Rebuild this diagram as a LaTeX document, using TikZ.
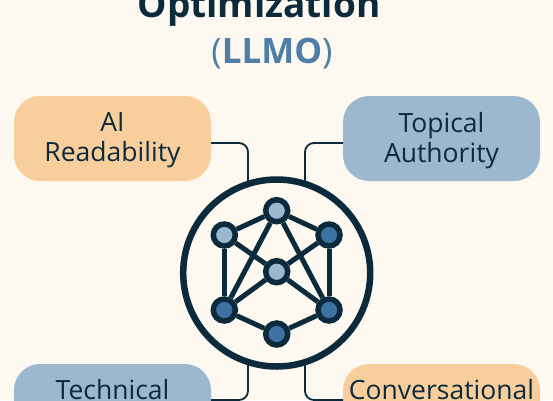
\documentclass[tikz,border=0pt]{standalone}
\usepackage{xcolor}
\usepackage{fontspec}
\setmainfont{Open Sans}
\usetikzlibrary{positioning}
\definecolor{pagecream}{HTML}{FEF9F0}
\definecolor{inkdark}{HTML}{0B2B3C}
\definecolor{tagorange}{HTML}{F8CF9C}
\definecolor{tagblue}{HTML}{9CB8CF}
\definecolor{dotblue}{HTML}{3E72A3}
\definecolor{acroblue}{HTML}{4F7FA8}

\begin{document}
\begin{tikzpicture}[
  x=1pt, y=-1pt,
  tagbox/.style={rounded corners=26pt, minimum width=197pt, minimum height=85pt, inner sep=0pt},
  tagtext/.style={align=center, inner sep=0pt, text=inkdark, yshift=-2pt, font=\fontsize{26.5}{30}\selectfont},
  link/.style={draw=inkdark, line width=1.8pt, rounded corners=9pt},
  hubring/.style={circle, draw=inkdark, fill=pagecream, line width=6.5pt, minimum size=187pt, inner sep=0pt},
  netdot/.style={circle, draw=inkdark, line width=5.5pt, minimum size=22pt, inner sep=0pt},
  netline/.style={draw=inkdark, line width=5pt}
]
\clip (0,0) rectangle (553,400);
\fill[pagecream] (0,0) rectangle (553,400);
% title
\node[anchor=base, text=inkdark, font=\fontsize{37}{44}\bfseries\selectfont] (title) at (259,17) {Optimization};
\node[anchor=base, text=acroblue, font=\fontsize{35}{36}\bfseries\selectfont] (acro) at (272,63) {{\mdseries(}LLMO{\mdseries)}};
% tags
\node[tagbox, fill=tagorange] (ai) at (112.5,138.5) {};
\node[tagbox, fill=tagblue] (topical) at (441.5,138.5) {};
\node[tagbox, fill=tagblue] (tech) at (112.5,406.5) {};
\node[tagbox, fill=tagorange] (conv) at (441.5,406.5) {};
\node[tagtext] (aitext) at (ai) {AI\\Readability};
\node[tagtext] (topicaltext) at (topical) {Topical\\Authority};
\node[tagtext] (techtext) at (tech) {Technical\\\strut};
\node[tagtext] (convtext) at (conv) {Conversational\\\strut};
% connectors
\coordinate (aiport) at (211,143);
\coordinate (topicalport) at (343,143);
\coordinate (techport) at (211,400);
\coordinate (convport) at (343,400);
\coordinate (hubnw) at (248,184);
\coordinate (hubne) at (305,184);
\coordinate (hubsw) at (248,362);
\coordinate (hubse) at (305,362);
\draw[link] (aiport) -| (hubnw);
\draw[link] (topicalport) -| (hubne);
\draw[link] (techport) -| (hubsw);
\draw[link] (convport) -| (hubse);
% hub
\node[hubring] (hub) at (276.7,273) {};
\node[netdot, fill=tagblue] (top) at (276.7,210.7) {};
\node[netdot, fill=tagblue] (ul) at (224.3,235) {};
\node[netdot, fill=dotblue] (ur) at (329,235) {};
\node[netdot, fill=tagblue] (mid) at (276.7,271.7) {};
\node[netdot, fill=dotblue] (ll) at (224.3,310) {};
\node[netdot, fill=dotblue] (lr) at (329,310) {};
\node[netdot, fill=dotblue] (bot) at (276.7,334) {};
\draw[netline] (top) -- (ul);
\draw[netline] (top) -- (ur);
\draw[netline] (ul) -- (ll);
\draw[netline] (ur) -- (lr);
\draw[netline] (ll) -- (bot);
\draw[netline] (lr) -- (bot);
\draw[netline] (ul) -- (mid);
\draw[netline] (ur) -- (mid);
\draw[netline] (ll) -- (mid);
\draw[netline] (lr) -- (mid);
\draw[netline] (top) -- (ll);
\draw[netline] (top) -- (lr);
\end{tikzpicture}
\end{document}
